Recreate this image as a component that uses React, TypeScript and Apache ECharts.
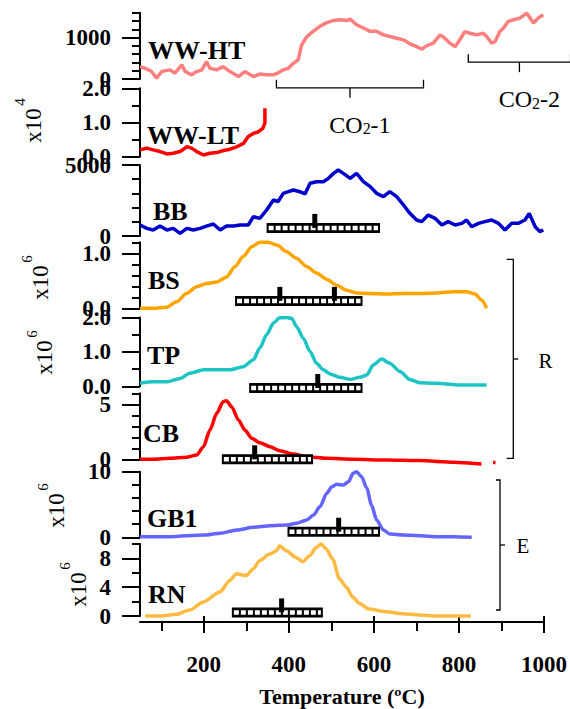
import React, { useEffect, useRef } from "react";
import * as echarts from "echarts";

const SERIF = '"Liberation Serif", "Times New Roman", Times, serif';

// ---- data (temperature in °C, signal in axis units) ----
const wwHT = [[50,300],[62,260],[77,180],[89,20],[101,180],[120,220],[132,140],[148,340],[156,180],[171,100],[183,180],[195,220],[206,420],[214,260],[230,220],[245,300],[261,180],[281,60],[296,180],[316,60],[331,120],[347,100],[363,100],[374,150],[386,220],[398,260],[410,380],[421,460],[429,820],[441,1020],[456,1150],[472,1270],[488,1360],[503,1410],[519,1430],[535,1410],[543,1445],[558,1310],[574,1230],[590,1150],[605,1150],[621,1065],[636,1025],[652,985],[668,945],[683,850],[699,780],[711,720],[722,800],[738,865],[754,1065],[765,985],[777,865],[789,780],[801,960],[812,1145],[824,1105],[840,1065],[855,1105],[863,1025],[875,865],[883,905],[894,1145],[902,1225],[914,1390],[926,1430],[941,1470],[957,1590],[965,1470],[973,1350],[984,1470],[996,1550]];
const wwLT = [[50,0.2],[66,0.25],[81,0.2],[97,0.15],[113,0.08],[128,0.1],[144,0.15],[160,0.29],[171,0.25],[183,0.15],[199,0.05],[214,0.1],[230,0.12],[246,0.18],[261,0.22],[277,0.29],[293,0.39],[304,0.59],[316,0.68],[328,0.73],[338,0.83],[343,0.98],[343,1.42]];
const bb = [[50,775],[66,540],[81,420],[97,700],[113,420],[128,540],[144,190],[160,540],[175,420],[191,540],[206,700],[222,845],[238,420],[253,700],[269,700],[285,775],[304,775],[316,1360],[331,1245],[347,1830],[363,2535],[374,2420],[386,3005],[398,3120],[410,3240],[425,3120],[437,2960],[449,3710],[464,3825],[480,3825],[492,4060],[504,4410],[515,4650],[527,4410],[543,4060],[558,4410],[574,3825],[590,3475],[605,3005],[621,2770],[636,3120],[652,2770],[668,2185],[683,1595],[699,1125],[711,1010],[726,1480],[742,1245],[758,775],[773,1010],[789,775],[805,890],[816,1125],[828,655],[844,890],[859,1010],[875,1125],[891,890],[906,425],[922,890],[937,890],[953,1125],[963,1595],[977,655],[988,305],[996,425]];
const bsT = [50,81,113,136,159,183,206,230,253,273,292,312,331,351,371,394,417,441,464,488,511,535,558,589,629,668,707,746,785,816,836,851,863];
const bsV = [0,0,0.02,0.12,0.27,0.39,0.45,0.48,0.57,0.76,0.94,1.12,1.2,1.2,1.15,1.03,0.91,0.76,0.64,0.53,0.42,0.33,0.28,0.27,0.26,0.27,0.27,0.28,0.3,0.3,0.26,0.15,0];
const tpT = [50,81,113,144,167,199,230,261,292,316,331,347,363,378,394,406,417,433,449,464,480,496,519,543,566,582,597,617,636,660,683,707,738,769,801,832,863];
const tpV = [0.09,0.13,0.13,0.23,0.38,0.48,0.48,0.48,0.57,0.77,1.11,1.5,1.84,1.99,2.0,1.97,1.74,1.4,1.01,0.67,0.48,0.36,0.26,0.2,0.26,0.33,0.62,0.79,0.67,0.43,0.2,0.1,0.09,0.07,0.04,0.04,0.04];
const cb = [[50,0],[81,0],[120,0.09],[159,0.18],[183,0.39],[199,1.15],[214,2.66],[230,4.18],[245,5.24],[253,5.33],[265,4.78],[281,3.57],[296,2.66],[312,1.91],[331,1.51],[355,1.15],[378,0.78],[410,0.48],[441,0.24],[488,0.09],[550,0],[629,-0.06],[707,-0.12],[785,-0.27],[851,-0.43],[865,null],[878,-0.3],[884,-0.3]];
const gb1 = [[50,0.09],[120,0.09],[199,0.35],[238,0.61],[277,1.11],[316,1.52],[355,1.77],[394,1.87],[417,2.13],[441,2.64],[457,3.4],[472,4.66],[488,6.71],[500,7.71],[511,8.08],[527,7.97],[539,8.48],[550,9.76],[558,10],[570,9.24],[582,7.47],[593,4.92],[605,2.64],[621,1.11],[636,0.5],[668,0.35],[707,0.24],[746,0.09],[785,0.09],[828,0]];
const rn = [[62,0],[97,0],[136,0.23],[167,0.82],[199,1.96],[238,3.33],[261,4.94],[277,5.86],[300,5.62],[316,6.54],[331,7.68],[355,8.6],[371,9.05],[378,9.74],[394,9.05],[417,8.13],[433,7.54],[449,8.37],[464,9.51],[476,10],[488,9.29],[503,7.91],[519,5.17],[535,4.02],[550,2.65],[566,1.74],[589,0.96],[629,0.59],[668,0.32],[707,0.14],[746,0],[828,0]];

const panelNames = ["WW-HT", "WW-LT", "BB", "BS", "TP", "CB", "GB1", "RN"];
const panelData = [wwHT, wwLT, bb, bsT.map((t, i) => [t, bsV[i]]), tpT.map((t, i) => [t, tpV[i]]), cb, gb1, rn];
const panelColors = ["#FF7F7F", "#FF0000", "#0000CC", "#FFA500", "#1EC4C4", "#FF0000", "#6464FF", "#FFBA42"];
const panelSmooth = [false, false, false, true, true, true, true, true];
const yMax = [1600, 2, 5000, 1.2, 2, 6, 10, 10];
const yMajorTicks = [[0, 1000], [0, 1, 2], [0, 5000], [0, 1], [0, 1, 2], [0, 5], [0, 10], [0, 4, 8]];
const yMinorTicks = [[200, 400, 600, 800, 1200, 1400, 1600], [0.5, 1.5], [1000, 2000, 3000, 4000], [0.2, 0.4, 0.6, 0.8, 1.2], [0.5, 1.5], [1, 2, 3, 4, 6], [2, 4, 6, 8], [2, 6, 10]];
const yDecimals = [0, 1, 0, 1, 1, 0, 0, 0];
const exponents = ["", "4", "", "6", "6", "", "6", "6"];
const xMajorTicks = [200, 400, 600, 800, 1000];
const xMinorTicks = [100, 300, 500, 700, 900];

// temperature ranges (hatched bars) with peak markers
const barBB = { start: 347, end: 613, level: 570, peaks: [460] };
const barBS = { start: 273, end: 572, level: 0.135, peaks: [378, 506] };
const barTP = { start: 306, end: 572, level: -0.05, peaks: [467] };
const barCB = { start: 242, end: 456, level: 0, peaks: [319] };
const barGB1 = { start: 396, end: 613, level: 0.85, peaks: [516] };
const barRN = { start: 266, end: 480, level: 0.5, peaks: [383] };
const panelBars = [null, null, barBB, barBS, barTP, barCB, barGB1, barRN];

// CO2 evolution ranges
const co2Labels = ["1", "2"];
const co2Start = [370, 820];
const co2End = [715, 1060];
const co2Level = [-20, 600];

// ---- layout ----
const gridTops = [12.7, 88.3, 165, 242.3, 317.5, 393.3, 471.7, 544];
const gridHeights = [66.3, 68.4, 71, 66, 68.8, 66, 65.6, 72];
const nameLabelPos = [[148, 50], [147, 135], [153, 211], [148, 280], [147, 355], [143, 433], [147, 518], [148, 594]];
// [baseline x, bottom y] of rotated "x10^n"
const expLabelPos = [null, [40, 143], null, [47, 300], [51.7, 375], null, [63, 528], [85, 607]];

export default function App() {
  const ref = useRef<HTMLDivElement>(null);
  useEffect(() => {
    const chart = echarts.init(ref.current as HTMLDivElement, null, { renderer: "svg" });
    const axisLineStyle = { color: "#000", width: 2 };
    const grid: any[] = [];
    const xAxis: any[] = [];
    const yAxis: any[] = [];
    const series: any[] = [];
    const graphic: any[] = [];

    for (let i = 0; i < 8; i++) {
      grid.push({ left: 140, width: 405, top: gridTops[i], height: gridHeights[i] });
      if (i < 7) {
        xAxis.push({ type: "value", gridIndex: i, min: 50, max: 1000, show: false });
      } else {
        xAxis.push({
          type: "value", gridIndex: i, min: 50, max: 1000, position: "bottom", offset: 6,
          axisLine: { show: true, onZero: false, lineStyle: axisLineStyle },
          axisTick: { show: true, customValues: xMinorTicks, length: 9, lineStyle: axisLineStyle },
          axisLabel: { show: false }, splitLine: { show: false },
        });
      }
      yAxis.push({
        type: "value", gridIndex: i, min: 0, max: yMax[i], position: "left", offset: 0,
        axisLine: { show: true, onZero: false, lineStyle: axisLineStyle },
        axisTick: { show: true, customValues: yMinorTicks[i], length: 8, lineStyle: axisLineStyle },
        axisLabel: { show: false }, splitLine: { show: false },
      });
      const dec = yDecimals[i];
      yAxis.push({
        type: "value", gridIndex: i, min: 0, max: yMax[i], position: "left", offset: 0,
        axisLine: { show: false },
        axisTick: { show: true, customValues: yMajorTicks[i], length: 18, lineStyle: axisLineStyle },
        axisLabel: {
          show: true, customValues: yMajorTicks[i], margin: 29, color: "#000",
          fontSize: 23, fontWeight: "bold", fontFamily: SERIF,
          formatter: (v: number) => v.toFixed(dec),
        },
        splitLine: { show: false },
      });
      series.push({
        type: "line", xAxisIndex: i, yAxisIndex: 2 * i, data: panelData[i],
        showSymbol: false, symbol: "none", clip: false, silent: true,
        smooth: panelSmooth[i] ? 0.25 : false, smoothMonotone: "x",
        lineStyle: { color: panelColors[i], width: 3.5 }, itemStyle: { color: panelColors[i] },
        z: 3,
      });
      const bar = panelBars[i];
      if (bar) {
        series.push({
          type: "custom", xAxisIndex: i, yAxisIndex: 2 * i, silent: true, z: 5,
          data: [[bar.start, bar.end, bar.level]],
          renderItem: (params: any, api: any) => {
            const lv = api.value(2);
            const s = api.coord([api.value(0), lv]);
            const e = api.coord([api.value(1), lv]);
            const h = 10;
            const children: any[] = [
              { type: "rect", shape: { x: s[0], y: s[1] - h / 2, width: e[0] - s[0], height: h }, style: { fill: "#000" } },
              { type: "line", shape: { x1: s[0] + 2, y1: s[1], x2: e[0] - 2, y2: s[1] }, style: { stroke: "#fff", lineWidth: 4.5, lineDash: [5, 2] } },
            ];
            bar.peaks.forEach((p) => {
              const c = api.coord([p, lv]);
              children.push({ type: "rect", shape: { x: c[0] - 2.5, y: c[1] - h / 2 - 9, width: 5, height: 9 + h / 2 }, style: { fill: "#000" } });
            });
            return { type: "group", children };
          },
        });
      }
      graphic.push({
        type: "text", x: nameLabelPos[i][0], y: nameLabelPos[i][1], z: 10,
        style: { text: panelNames[i], fill: "#000", font: `bold 26px ${SERIF}`, textAlign: "left", textVerticalAlign: "middle" },
      });
      const ep = expLabelPos[i];
      if (ep) {
        graphic.push({
          type: "text", x: ep[0] - 7, y: ep[1] - 17.5, rotation: Math.PI / 2, z: 10,
          style: { text: "x10", fill: "#000", font: `23px ${SERIF}`, textAlign: "center", textVerticalAlign: "middle" },
        });
        graphic.push({
          type: "text", x: ep[0] - 20, y: ep[1] - 41, rotation: Math.PI / 2, z: 10,
          style: { text: exponents[i], fill: "#000", font: `15px ${SERIF}`, textAlign: "center", textVerticalAlign: "middle" },
        });
      }
    }

    xAxis.push({
      type: "value", gridIndex: 7, min: 50, max: 1000, position: "bottom", offset: 6,
      axisLine: { show: false },
      axisTick: { show: true, customValues: xMajorTicks, length: 17, lineStyle: axisLineStyle },
      axisLabel: {
        show: true, customValues: xMajorTicks, margin: 31, color: "#000", fontSize: 23, fontWeight: "bold", fontFamily: SERIF,
        formatter: (v: number) => String(v),
      },
      splitLine: { show: false },
      name: "Temperature (ºC)", nameLocation: "middle", nameGap: 63,
      nameTextStyle: { color: "#000", fontSize: 22, fontWeight: "bold", fontFamily: SERIF },
    });

    // CO2 brackets
    series.push({
      type: "custom", xAxisIndex: 0, yAxisIndex: 0, silent: true, z: 5,
      data: co2Start.map((s, k) => [s, co2End[k], co2Level[k]]),
      renderItem: (params: any, api: any) => {
        const lv = api.value(2);
        const a = api.coord([api.value(0), lv]);
        const b = api.coord([api.value(1), lv]);
        const y0 = a[1];
        const yl = y0 + 8;
        const mid = (a[0] + b[0]) / 2;
        return {
          type: "group",
          children: [
            { type: "polyline", shape: { points: [[a[0], y0], [a[0], yl], [b[0], yl], [b[0], y0]] }, style: { stroke: "#000", lineWidth: 1.3, fill: null } },
            { type: "line", shape: { x1: mid, y1: yl, x2: mid, y2: yl + 10 }, style: { stroke: "#000", lineWidth: 1.3 } },
            {
              type: "text", x: mid + 10, y: yl + 37,
              style: {
                text: `{a|CO}{b|2}{a|-${co2Labels[params.dataIndex]}}`,
                rich: {
                  a: { fontSize: 24, fontFamily: SERIF, fill: "#000", color: "#000" },
                  b: { fontSize: 16, fontFamily: SERIF, fill: "#000", color: "#000", verticalAlign: "bottom" },
                },
                textAlign: "center", textVerticalAlign: "middle",
              },
            },
          ],
        };
      },
    });

    // R and E group brackets
    const bracketStyle = { stroke: "#000", lineWidth: 1.3, fill: null };
    graphic.push(
      { type: "polyline", shape: { points: [[506.7, 259.3], [513.3, 259.3], [513.3, 458.3], [506.7, 458.3]] }, style: bracketStyle },
      { type: "line", shape: { x1: 513.3, y1: 359, x2: 518.3, y2: 359 }, style: { stroke: "#000", lineWidth: 1.3 } },
      { type: "text", x: 545.5, y: 361, style: { text: "R", fill: "#000", font: `21px ${SERIF}`, textAlign: "center", textVerticalAlign: "middle" } },
      { type: "polyline", shape: { points: [[496, 480], [500, 480], [500, 610], [496, 610]] }, style: bracketStyle },
      { type: "line", shape: { x1: 500, y1: 545, x2: 505, y2: 545 }, style: { stroke: "#000", lineWidth: 1.3 } },
      { type: "text", x: 523, y: 546, style: { text: "E", fill: "#000", font: `21px ${SERIF}`, textAlign: "center", textVerticalAlign: "middle" } },
    );

    chart.setOption({
      animation: false,
      backgroundColor: "#fff",
      grid, xAxis, yAxis, series, graphic,
    });
    return () => chart.dispose();
  }, []);
  return <div ref={ref} style={{ position: "fixed", left: 0, top: 0, width: 570, height: 709 }} />;
}
